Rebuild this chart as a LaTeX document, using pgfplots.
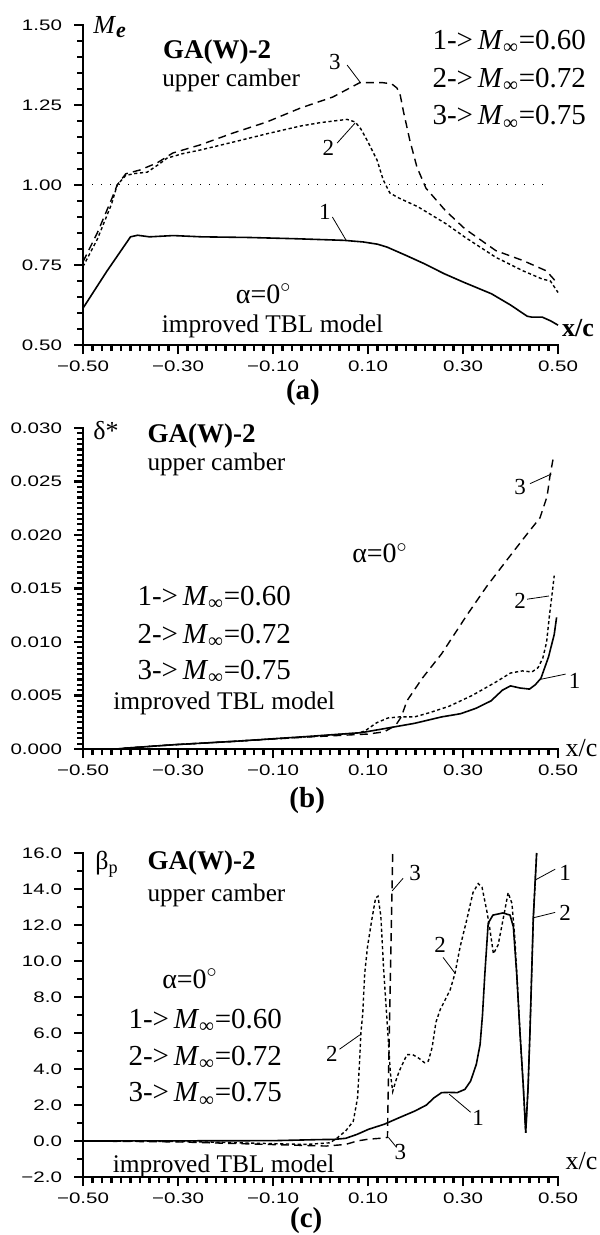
\documentclass[border=0pt]{standalone}
\usepackage{fontspec}
\setmainfont{Liberation Serif}
\newfontfamily\tickfont[FakeStretch=1.35]{Liberation Sans}
\usepackage{pgfplots}
\pgfplotsset{compat=1.18}

\newcommand\Minf{\textit{M}\textsubscript{\textit{∞}}}
\newcommand\degr{$^{\circ}$}

\pgfplotsset{
  panel/.style={
    scale only axis, width=237.5pt,
    xmin=-0.5, xmax=0.5,
    axis line style={draw=none},
    xtick pos=bottom, ytick pos=left,
    tick align=outside,
    major tick length=4.5pt, minor tick length=3pt,
    every tick/.style={draw=black, line width=1.1pt},
    xtick={-0.5,-0.3,-0.1,0.1,0.3,0.5},
    xticklabels={−0.50,−0.30,−0.10,0.10,0.30,0.50},
    minor x tick num=9,
    scaled y ticks=false,
    tick label style={font=\tickfont\fontsize{7.6}{8}\selectfont},
    yticklabel style={xshift=-2.5pt},
    clip=false,
    after end axis/.code={
      \draw[line width=0.9pt, line cap=rect] (rel axis cs:0,1) -- (rel axis cs:0,0) -- (rel axis cs:1,0);
    },
  },
  c1/.style={black, line width=0.8pt},
  c2/.style={black, line width=0.7pt, dash pattern=on 1.6pt off 1.3pt},
  c3/.style={black, line width=0.7pt, dash pattern=on 4pt off 2.6pt},
}
\tikzset{
  ann/.style={anchor=base west, inner sep=0pt, font=\fontsize{#1}{#1}\selectfont},
  lead/.style={line width=0.4pt},
  curvenum/.style={anchor=center, inner sep=0pt, font=\fontsize{11.5}{11.5}\selectfont},
  figcap/.style={anchor=center, inner sep=0pt, font=\bfseries\fontsize{14.5}{14.5}\selectfont},
}

\begin{document}
\begin{tikzpicture}

% ---------------- (a) Me
\begin{axis}[panel, at={(41.5pt,-172.5pt)}, anchor=south west, height=160pt,
  ymin=0.5, ymax=1.5, ytick={0.5,0.75,1,1.25,1.5},
  yticklabels={0.50,0.75,1.00,1.25,1.50}, minor y tick num=4]
\addplot[black, line width=0.5pt, dash pattern=on 0.5pt off 4pt] coordinates {(-0.5,1)(0.48,1)};
% M=0.60
\addplot[c1] coordinates {
(-0.5,0.615) (-0.45,0.73) (-0.40,0.838) (-0.385,0.843) (-0.36,0.838) (-0.31,0.842)
(-0.25,0.838) (-0.15,0.836) (-0.05,0.832) (0.05,0.827) (0.09,0.822) (0.12,0.815)
(0.14,0.806) (0.18,0.78) (0.22,0.753) (0.26,0.723) (0.30,0.697) (0.36,0.66)
(0.40,0.625) (0.435,0.59) (0.445,0.587) (0.467,0.587) (0.485,0.575) (0.5,0.562)};
% M=0.72
\addplot[c2] coordinates {
(-0.5,0.745) (-0.47,0.83) (-0.44,0.94) (-0.428,1.0) (-0.41,1.03) (-0.39,1.036)
(-0.365,1.04) (-0.34,1.065) (-0.323,1.084) (-0.29,1.098) (-0.254,1.109) (-0.184,1.134)
(-0.113,1.16) (-0.043,1.184) (0.0,1.195) (0.056,1.205) (0.073,1.197) (0.085,1.175)
(0.098,1.14) (0.119,1.078) (0.132,1.016) (0.146,0.975) (0.164,0.96) (0.205,0.932)
(0.263,0.88) (0.304,0.837) (0.369,0.774) (0.426,0.732) (0.467,0.706) (0.484,0.70) (0.5,0.664)};
% M=0.75
\addplot[c3] coordinates {
(-0.5,0.76) (-0.47,0.85) (-0.44,0.955) (-0.428,1.0) (-0.41,1.035) (-0.38,1.047)
(-0.344,1.069) (-0.311,1.10) (-0.254,1.125) (-0.184,1.1625) (-0.113,1.197) (-0.043,1.24)
(0.026,1.275) (0.083,1.32) (0.13,1.32) (0.15,1.316) (0.161,1.303) (0.168,1.28)
(0.174,1.234) (0.188,1.14) (0.203,1.056) (0.222,0.99) (0.263,0.92) (0.304,0.863)
(0.369,0.795) (0.426,0.764) (0.475,0.732) (0.488,0.711) (0.5,0.69)};
\node[ann=13] at (axis cs:-0.479,1.4735) {\textit{M}\textsubscript{\fontsize{11}{11}\selectfont\textit{\textbf{e}}}};
\node[ann=13.5] at (axis cs:-0.332,1.396) {\textbf{GA(W)-2}};
\node[ann=12.6] at (axis cs:-0.334,1.309) {upper camber};
\node[ann=14.5] at (axis cs:0.235,1.424) {1->\,\Minf=0.60};
\node[ann=14.5] at (axis cs:0.235,1.305) {2->\,\Minf=0.72};
\node[ann=14.5] at (axis cs:0.235,1.1875) {3->\,\Minf=0.75};
\node[ann=14] at (axis cs:-0.179,0.631) {α=0\degr};
\node[ann=12.7] at (axis cs:-0.335,0.538) {improved TBL model};
\node[ann=13] at (axis cs:0.508,0.526) {\textbf{x/c}};
\node[curvenum] at (axis cs:0.009,0.916) {1};
\draw[lead] (axis cs:0.025,0.90) -- (axis cs:0.054,0.827);
\node[curvenum] at (axis cs:0.0165,1.115) {2};
\draw[lead] (axis cs:0.035,1.131) -- (axis cs:0.073,1.194);
\node[curvenum] at (axis cs:0.03,1.385) {3};
\draw[lead] (axis cs:0.056,1.375) -- (axis cs:0.083,1.322);
\node[figcap] at (axis cs:-0.037,0.353) {(a)};
\end{axis}

% ---------------- (b) delta*
\begin{axis}[panel, at={(41.5pt,-374.5pt)}, anchor=south west, height=160.5pt,
  ymin=0, ymax=0.03, ytick={0,0.005,0.01,0.015,0.02,0.025,0.03},
  yticklabels={0.000,0.005,0.010,0.015,0.020,0.025,0.030}, minor y tick num=9]
\addplot[c1] coordinates {
(-0.5,0) (-0.43,0) (-0.405,0.0001) (-0.309,0.0004) (-0.188,0.0007) (-0.027,0.00117)
(0.086,0.00153) (0.134,0.0019) (0.198,0.0024) (0.255,0.003) (0.295,0.0033) (0.327,0.0038)
(0.359,0.0045) (0.383,0.0055) (0.40,0.0059) (0.42,0.0057) (0.44,0.0056) (0.452,0.006)
(0.464,0.0066) (0.48,0.0086) (0.492,0.0107) (0.497,0.0123)};
\addplot[c2] coordinates {
(-0.5,0) (-0.43,0) (-0.405,0.0001) (-0.309,0.0004) (-0.188,0.0007) (-0.027,0.00115)
(0.08,0.0015) (0.094,0.0017) (0.118,0.00245) (0.142,0.0029) (0.166,0.003) (0.198,0.003)
(0.23,0.0034) (0.271,0.004) (0.319,0.005) (0.367,0.0062) (0.40,0.0071) (0.425,0.0073)
(0.445,0.0072) (0.458,0.0076) (0.468,0.0085) (0.476,0.0100) (0.482,0.0125) (0.487,0.0143) (0.492,0.0162)};
\addplot[c3] coordinates {
(-0.5,0) (-0.43,0) (-0.405,0.0001) (-0.309,0.0004) (-0.188,0.0007) (-0.027,0.00112)
(0.1,0.0014) (0.134,0.0016) (0.158,0.0022) (0.17,0.003) (0.182,0.0045) (0.214,0.0066)
(0.255,0.0089) (0.308,0.0125) (0.35,0.0152) (0.393,0.0177) (0.435,0.0201) (0.462,0.0216)
(0.477,0.0236) (0.483,0.0255) (0.49,0.0272)};
\node[ann=13] at (axis cs:-0.479,0.02897) {δ*};
\node[ann=13.5] at (axis cs:-0.365,0.0286) {\textbf{GA(W)-2}};
\node[ann=12.6] at (axis cs:-0.365,0.026) {upper camber};
\node[ann=14] at (axis cs:0.066,0.0174) {α=0\degr};
\node[ann=14.5] at (axis cs:-0.386,0.01341) {1->\,\Minf=0.60};
\node[ann=14.5] at (axis cs:-0.386,0.00985) {2->\,\Minf=0.72};
\node[ann=14.5] at (axis cs:-0.386,0.00650) {3->\,\Minf=0.75};
\node[ann=12.7] at (axis cs:-0.437,0.00365) {improved TBL model};
\node[ann=13] at (axis cs:0.515,-0.00072) {x/c};
\node[curvenum] at (axis cs:0.42,0.0245) {3};
\draw[lead] (axis cs:0.441,0.0248) -- (axis cs:0.486,0.0257);
\node[curvenum] at (axis cs:0.42,0.0138) {2};
\draw[lead] (axis cs:0.435,0.0140) -- (axis cs:0.481,0.0143);
\node[curvenum] at (axis cs:0.535,0.0064) {1};
\draw[lead] (axis cs:0.462,0.0065) -- (axis cs:0.516,0.0070);
\node[figcap] at (axis cs:-0.028,-0.00478) {(b)};
\end{axis}

% ---------------- (c) beta_p
\begin{axis}[panel, at={(41.5pt,-588.5pt)}, anchor=south west, height=162pt,
  ymin=-2, ymax=16, ytick={-2,0,...,16},
  yticklabels={−2.0,0.0,2.0,4.0,6.0,8.0,10.0,12.0,14.0,16.0}, minor y tick num=1]
\addplot[c1] coordinates {
(-0.5,0) (-0.1,0.02) (0.0,0.08) (0.028,0.09) (0.053,0.15) (0.077,0.37) (0.101,0.65)
(0.134,0.93) (0.166,1.3) (0.199,1.67) (0.223,2.0) (0.239,2.4) (0.255,2.69) (0.271,2.7)
(0.288,2.69) (0.304,2.87) (0.316,3.33) (0.328,4.26) (0.336,5.37) (0.341,7.0) (0.346,9.3)
(0.353,12.1) (0.363,12.55) (0.384,12.67) (0.399,12.55) (0.406,11.9) (0.413,9.3) (0.42,6.0)
(0.427,3.0) (0.432,0.46) (0.437,3.0) (0.441,6.1) (0.448,12.4) (0.455,16)};
\addplot[c2] coordinates {
(-0.5,0) (-0.3,-0.02) (-0.19,-0.09) (-0.03,-0.19) (0.02,-0.1) (0.036,0.19) (0.053,0.56)
(0.069,1.1) (0.078,2.4) (0.082,4.3) (0.085,6.0) (0.089,7.1) (0.093,9.3) (0.099,10.8)
(0.108,12.3) (0.116,13.5) (0.121,13.6) (0.127,12.5) (0.133,9.5) (0.138,7.5) (0.143,5.5)
(0.147,3.8) (0.152,2.75) (0.158,3.3) (0.166,3.9) (0.174,4.35) (0.182,4.8) (0.194,4.8)
(0.207,4.6) (0.219,4.35) (0.227,4.44) (0.235,5.2) (0.243,6.6) (0.252,7.3) (0.273,8.4)
(0.283,9.3) (0.294,10.8) (0.308,12.3) (0.321,13.8) (0.332,14.3) (0.34,14.1) (0.35,12.8)
(0.357,11.7) (0.364,10.4) (0.374,10.9) (0.385,12.4) (0.395,13.8) (0.403,13.2) (0.409,11.3)
(0.415,8.5) (0.42,6.0) (0.427,3.0) (0.432,0.46) (0.437,3.0) (0.441,6.1) (0.448,12.4) (0.455,16)};
\addplot[c3] coordinates {
(-0.5,0) (-0.3,-0.05) (-0.11,-0.19) (0.012,-0.28) (0.053,-0.19) (0.077,0.0) (0.1,0.1)
(0.125,0.15) (0.141,0.2) (0.142,2.0) (0.152,16)};
\node[ann=13] at (axis cs:-0.475,15.06) {β\textsubscript{p}};
\node[ann=13.5] at (axis cs:-0.365,15.06) {\textbf{GA(W)-2}};
\node[ann=12.6] at (axis cs:-0.365,13.3) {upper camber};
\node[ann=14] at (axis cs:-0.334,8.48) {α=0\degr};
\node[ann=14.5] at (axis cs:-0.405,6.26) {1->\,\Minf=0.60};
\node[ann=14.5] at (axis cs:-0.405,4.22) {2->\,\Minf=0.72};
\node[ann=14.5] at (axis cs:-0.405,2.18) {3->\,\Minf=0.75};
\node[ann=12.7] at (axis cs:-0.438,-1.76) {improved TBL model};
\node[ann=13] at (axis cs:0.515,-1.57) {x/c};
\node[curvenum] at (axis cs:0.199,14.9) {3};
\draw[lead] (axis cs:0.174,14.6) -- (axis cs:0.151,13.9);
\node[curvenum] at (axis cs:0.168,-0.6) {3};
\draw[lead] (axis cs:0.143,0.2) -- (axis cs:0.16,-0.35);
\node[curvenum] at (axis cs:0.024,4.85) {2};
\draw[lead] (axis cs:0.04,5.1) -- (axis cs:0.083,5.9);
\node[curvenum] at (axis cs:0.252,10.9) {2};
\draw[lead] (axis cs:0.258,10.2) -- (axis cs:0.283,9.33);
\node[curvenum] at (axis cs:0.332,1.3) {1};
\draw[lead] (axis cs:0.271,2.6) -- (axis cs:0.316,1.6);
\node[curvenum] at (axis cs:0.515,14.9) {1};
\draw[lead] (axis cs:0.452,14.5) -- (axis cs:0.494,15.1);
\node[curvenum] at (axis cs:0.515,12.7) {2};
\draw[lead] (axis cs:0.448,12.4) -- (axis cs:0.494,12.7);
\node[figcap] at (axis cs:-0.03,-4.4) {(c)};
\end{axis}
\pgfresetboundingbox
\path[use as bounding box] (0,0) rectangle (299.5pt,-617.5pt);
\end{tikzpicture}
\end{document}
